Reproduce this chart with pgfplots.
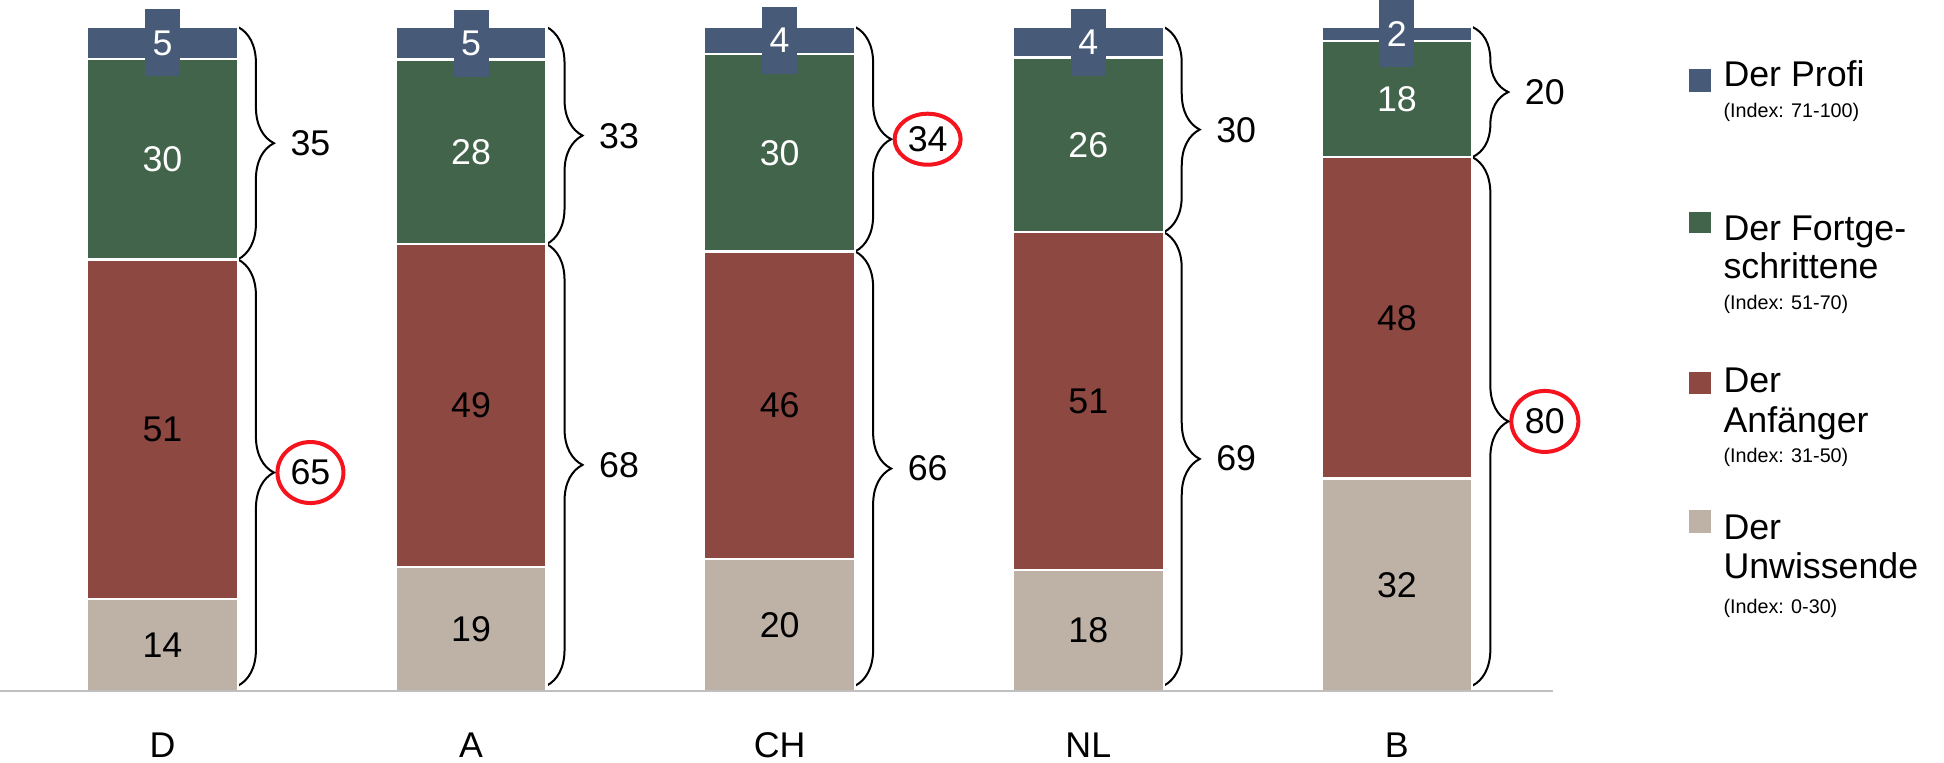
\documentclass[border=0pt]{standalone}
\usepackage{fontspec}
\setmainfont{Liberation Sans}
\usepackage{pgfplots}
\pgfplotsset{compat=1.18}
\usepackage{pgfplotstable}
\usetikzlibrary{decorations.pathreplacing,shapes.geometric}

\definecolor{cprofi}{HTML}{475B79}
\definecolor{cfort}{HTML}{41644A}
\definecolor{canf}{HTML}{8C4841}
\definecolor{cunw}{HTML}{BEB2A7}
\definecolor{cred}{HTML}{F5141E}
\newcommand{\numfont}{\fontsize{14.3pt}{17pt}\selectfont}
\newcommand{\idxfont}{\fontsize{7.9pt}{9pt}\selectfont}

\pgfplotstableread{
x u ul a al f fl p pl
0 13.9 14 51.1 51 30.2 30 4.8 5
1 18.7 19 48.6 49 27.8 28 4.9 5
2 19.9 20 46.3 46 29.7 30 4.1 4
3 18.2 18 50.9 51 26.3 26 4.6 4
4 32.0 32 48.4 48 17.5 18 2.1 2
}\data

\begin{document}
\begin{tikzpicture}[x=0.4pt,y=0.4pt]
\useasboundingbox (0,0) rectangle (1944,762);
\begin{axis}[
  at={(0pt,28.4pt)}, anchor=south west,
  scale only axis, width=621.2pt, height=265.6pt,
  xmin=-0.5265, xmax=4.506, ymin=0, ymax=100,
  ybar stacked, bar width=0.489,
  clip=false,
  axis on top,
  axis x line*=bottom, axis y line=none,
  x axis line style={draw=black!25, line width=0.8pt, -},
  xtick={0,1,2,3,4}, xticklabels={D,A,CH,NL,B},
  xtick style={draw=none},
  xticklabel style={font=\numfont, anchor=center, yshift=-21.6pt, text depth=0pt},
  ytick=\empty,
  point meta=explicit symbolic,
  nodes near coords,
  every node near coord/.append style={anchor=center, font=\numfont},
]
\addplot[fill=cunw, draw=white, line width=0.9pt,
  every node near coord/.append style={text=black}]
  table[x=x, y=u, meta=ul]{\data};
\addplot[fill=canf, draw=white, line width=0.9pt,
  every node near coord/.append style={text=black}]
  table[x=x, y=a, meta=al]{\data};
\addplot[fill=cfort, draw=white, line width=0.9pt,
  every node near coord/.append style={text=white}]
  table[x=x, y=f, meta=fl]{\data};
\addplot[fill=cprofi, draw=white, line width=0.9pt,
  every node near coord/.append style={text=white, fill=cprofi,
    minimum width=14pt, minimum height=26.8pt, inner sep=0pt}]
  table[x=x, y=p, meta=pl]{\data};

% braces (upper: Profi + Fortgeschrittene; lower: Anfaenger + Unwissende)
\tikzset{br/.style={decorate, decoration={brace, amplitude=14.4pt}, line width=0.8pt, black},
         tl/.style={font=\numfont, xshift=29pt},
         rc/.style={draw=cred, line width=1.6pt, ellipse, xshift=29pt, inner sep=0pt}}
\draw[br] (axis cs:0.2445,100) -- (axis cs:0.2445,65.0);
\draw[br] (axis cs:0.2445,65.0) -- (axis cs:0.2445,0.8);
\node[tl] at (axis cs:0.2445,82.5) {35};
\node[tl] at (axis cs:0.2445,32.9) {65};

\draw[br] (axis cs:1.2445,100) -- (axis cs:1.2445,67.3);
\draw[br] (axis cs:1.2445,67.3) -- (axis cs:1.2445,0.8);
\node[tl] at (axis cs:1.2445,83.6) {33};
\node[tl] at (axis cs:1.2445,34.0) {68};

\draw[br] (axis cs:2.2445,100) -- (axis cs:2.2445,66.2);
\draw[br] (axis cs:2.2445,66.2) -- (axis cs:2.2445,0.8);
\node[tl] at (axis cs:2.2445,83.1) {34};
\node[tl] at (axis cs:2.2445,33.5) {66};

\draw[br] (axis cs:3.2445,100) -- (axis cs:3.2445,69.1);
\draw[br] (axis cs:3.2445,69.1) -- (axis cs:3.2445,0.8);
\node[tl] at (axis cs:3.2445,84.5) {30};
\node[tl] at (axis cs:3.2445,35.0) {69};

\draw[br] (axis cs:4.2445,100) -- (axis cs:4.2445,80.4);
\draw[br] (axis cs:4.2445,80.4) -- (axis cs:4.2445,0.8);
\node[tl] at (axis cs:4.2445,90.2) {20};
\node[tl] at (axis cs:4.2445,40.6) {80};

% red highlight circles
\node[rc, minimum width=26.4pt, minimum height=24.4pt] at (axis cs:0.2445,32.9) {};
\node[rc, minimum width=26.4pt, minimum height=20.4pt] at (axis cs:2.2445,83.1) {};
\node[rc, minimum width=26.8pt, minimum height=24.4pt] at (axis cs:4.2445,40.6) {};
\end{axis}

% legend
\fill[cprofi] (1689,670) rectangle (1711,693);
\node[anchor=base west, font=\numfont, inner sep=0pt] at (1723,675) {Der Profi};
\node[anchor=base west, font=\idxfont, inner sep=0pt] at (1723,645) {(Index: 71-100)};

\fill[cfort] (1689,529) rectangle (1711,550);
\node[anchor=base west, font=\numfont, inner sep=0pt] at (1723,522) {Der Fortge-};
\node[anchor=base west, font=\numfont, inner sep=0pt] at (1723,484) {schrittene};
\node[anchor=base west, font=\idxfont, inner sep=0pt] at (1723,453) {(Index: 51-70)};

\fill[canf] (1689,368) rectangle (1711,390);
\node[anchor=base west, font=\numfont, inner sep=0pt] at (1723,370) {Der};
\node[anchor=base west, font=\numfont, inner sep=0pt] at (1723,330) {Anfänger};
\node[anchor=base west, font=\idxfont, inner sep=0pt] at (1723,300) {(Index: 31-50)};

\fill[cunw] (1689,229) rectangle (1711,252);
\node[anchor=base west, font=\numfont, inner sep=0pt] at (1723,223) {Der};
\node[anchor=base west, font=\numfont, inner sep=0pt] at (1723,184) {Unwissende};
\node[anchor=base west, font=\idxfont, inner sep=0pt] at (1723,149) {(Index: 0-30)};
\end{tikzpicture}
\end{document}
